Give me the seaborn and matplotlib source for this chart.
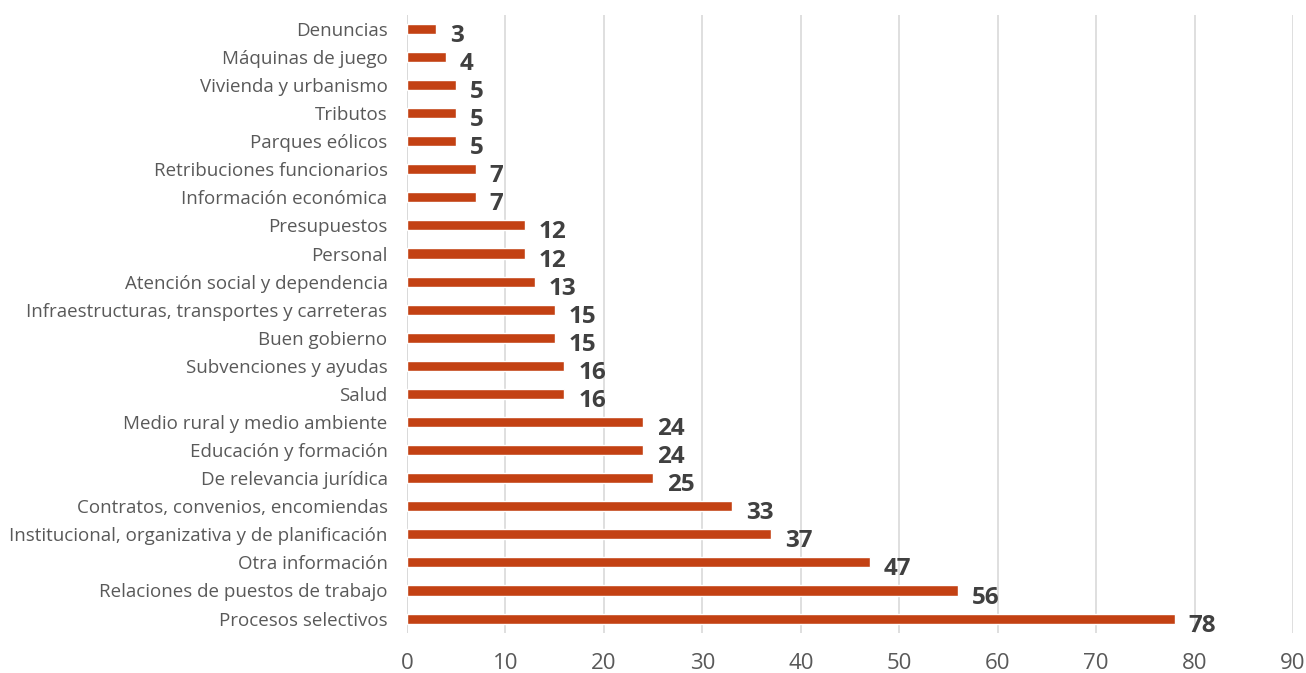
import matplotlib
matplotlib.use('Agg')
from matplotlib import pyplot as plt
import seaborn as sns
import pandas as pd

categorias = [
    "Denuncias", "Máquinas de juego", "Vivienda y urbanismo", "Tributos",
    "Parques eólicos", "Retribuciones funcionarios", "Información económica",
    "Presupuestos", "Personal", "Atención social y dependencia",
    "Infraestructuras, transportes y carreteras", "Buen gobierno",
    "Subvenciones y ayudas", "Salud", "Medio rural y medio ambiente",
    "Educación y formación", "De relevancia jurídica",
    "Contratos, convenios, encomiendas",
    "Institucional, organizativa y de planificación", "Otra información",
    "Relaciones de puestos de trabajo", "Procesos selectivos",
]
valores = [3, 4, 5, 5, 5, 7, 7, 12, 12, 13, 15, 15, 16, 16, 24, 24, 25, 33,
           37, 47, 56, 78]
ticks_x = [0, 10, 20, 30, 40, 50, 60, 70, 80, 90]

df = pd.DataFrame({"categoria": categorias, "valor": valores})

sns.set_style("white")
plt.rcParams['font.family'] = ['Open Sans', 'DejaVu Sans']

fig = plt.figure(figsize=(13.06, 6.73), dpi=100)
ax = fig.add_axes([0.3116, 0.06, 0.6785, 0.918])

sns.barplot(data=df, x="valor", y="categoria", color="#C34113",
            saturation=1, width=0.36, ax=ax, zorder=3)

# etiquetas de valor
for i, v in enumerate(valores):
    ax.text(v + 1.4, i + 0.25, str(v), fontsize=17.5, fontweight='bold',
            color="#404040", va='center', ha='left')

ax.set_xlim(0, 90)
ax.set_ylim(21.5, -0.5)
ax.set_xticks(ticks_x)
ax.xaxis.grid(True, color="#D9D9D9", linewidth=1.2, zorder=0)
ax.set_xlabel("")
ax.set_ylabel("")
for s in ax.spines.values():
    s.set_visible(False)
ax.axvline(0, color="#D9D9D9", linewidth=1.2, zorder=1)
ax.tick_params(axis='y', length=0, pad=14, labelsize=13.5, labelcolor="#595959")
ax.tick_params(axis='x', length=0, pad=15, labelsize=16, labelcolor="#595959")

plt.savefig("out.png", dpi=100)
plt.close()
